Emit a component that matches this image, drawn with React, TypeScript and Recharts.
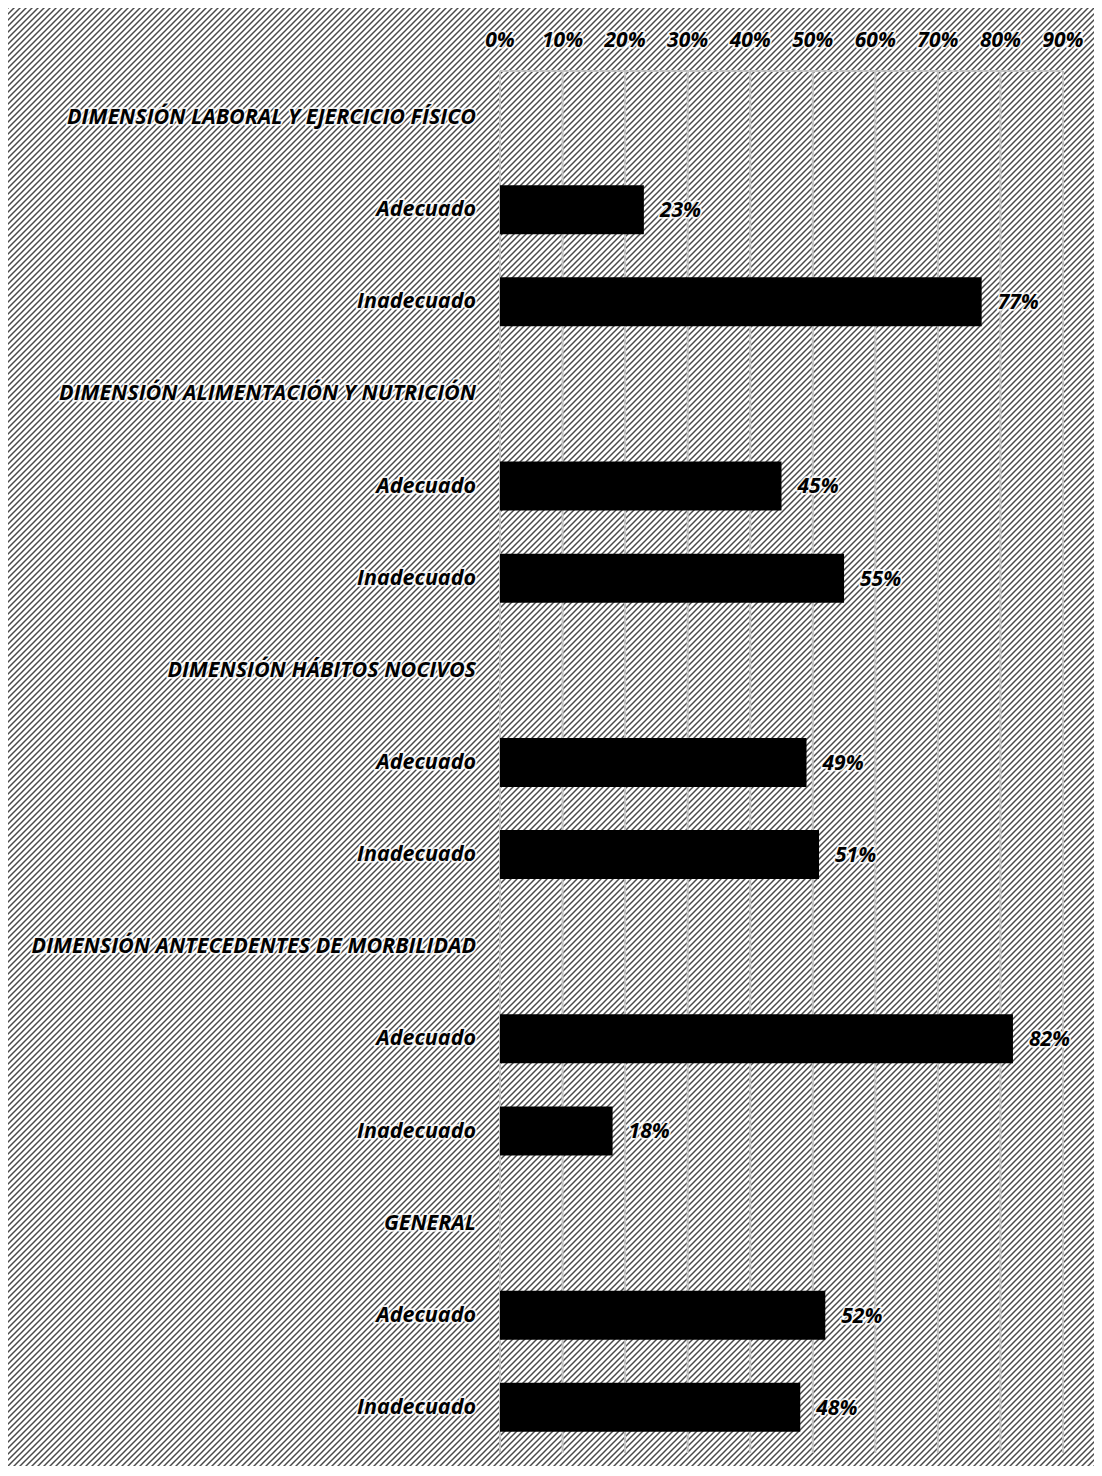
import React from "react";
import { BarChart, Bar, XAxis, YAxis, CartesianGrid, LabelList } from "recharts";

const categories = [
  "DIMENSIÓN LABORAL Y EJERCICIO FÍSICO",
  "Adecuado",
  "Inadecuado",
  "DIMENSIÓN ALIMENTACIÓN Y NUTRICIÓN",
  "Adecuado",
  "Inadecuado",
  "DIMENSIÓN HÁBITOS NOCIVOS",
  "Adecuado",
  "Inadecuado",
  "DIMENSIÓN ANTECEDENTES DE MORBILIDAD",
  "Adecuado",
  "Inadecuado",
  "GENERAL",
  "Adecuado",
  "Inadecuado",
];

const percents: (number | null)[] = [
  null, 0.23, 0.77,
  null, 0.45, 0.55,
  null, 0.49, 0.51,
  null, 0.82, 0.18,
  null, 0.52, 0.48,
];

const xTicks = [0, 0.1, 0.2, 0.3, 0.4, 0.5, 0.6, 0.7, 0.8, 0.9];

const rows = categories.map((c, i) => ({ key: String(i), label: c, value: percents[i] }));

const FONT = "'Open Sans', sans-serif";
const pct = (v: number) => `${Math.round(v * 100)}%`;

const hatch =
  "url(\"data:image/svg+xml;utf8,<svg xmlns='http://www.w3.org/2000/svg' width='6' height='6'>" +
  "<path d='M-1,1 L1,-1 M0,6 L6,0 M5,7 L7,5' stroke='%234a4a4a' stroke-width='1.5'/></svg>\")";

const glow = {
  stroke: "#fff",
  strokeWidth: 3.5,
  strokeOpacity: 0.8,
  strokeLinejoin: "round" as const,
  paintOrder: "stroke" as const,
};

const GRID = "#c2c2c2";

function CatTick(props: any) {
  const { x, y, payload } = props;
  return (
    <text
      x={x}
      y={y}
      dy={7}
      textAnchor="end"
      fontFamily={FONT}
      fontSize={21.5}
      fontWeight={700}
      fontStyle="italic"
      fill="#000"
      {...glow}
    >
      {categories[Number(payload.value)]}
    </text>
  );
}

function PctTick(props: any) {
  const { x, y, payload } = props;
  return (
    <text
      x={x}
      y={y}
      textAnchor="middle"
      fontFamily={FONT}
      fontSize={21}
      fontWeight={700}
      fontStyle="italic"
      fill="#000"
      {...glow}
    >
      {pct(payload.value)}
    </text>
  );
}

export default function App() {
  return (
    <div
      style={{
        width: 1089,
        height: 1458,
        backgroundColor: "#fff",
        backgroundImage: hatch,
        boxShadow: "3px 5px 6px rgba(0,0,0,0.6)",
      }}
    >
      <BarChart
        width={1089}
        height={1458}
        data={rows}
        layout="vertical"
        margin={{ top: 23, right: 34, bottom: 13, left: 0 }}
      >
        <CartesianGrid
          xAxisId="top"
          horizontal={false}
          stroke={GRID}
          strokeWidth={2}
          strokeDasharray="none"
        />
        <XAxis
          xAxisId="top"
          type="number"
          orientation="top"
          domain={[0, 0.9]}
          ticks={xTicks}
          height={40}
          tick={<PctTick />}
          tickLine={false}
          tickMargin={18}
          axisLine={{ stroke: GRID, strokeWidth: 2 }}
        />
        <XAxis
          xAxisId="bottom"
          type="number"
          orientation="bottom"
          domain={[0, 0.9]}
          ticks={xTicks}
          height={0}
          tick={false}
          tickLine={false}
          axisLine={{ stroke: GRID, strokeWidth: 2 }}
        />
        <YAxis
          type="category"
          dataKey="key"
          width={492}
          tick={<CatTick />}
          tickLine={false}
          tickSize={0}
          tickMargin={24}
          axisLine={false}
          interval={0}
        />
        <Bar xAxisId="top" dataKey="value" fill="#000" barSize={49} isAnimationActive={false}>
          <LabelList
            dataKey="value"
            position="right"
            offset={16}
            formatter={(v: any) => (v == null ? "" : pct(Number(v)))}
            style={{
              fontFamily: FONT,
              fontSize: 21,
              fontWeight: 700,
              fontStyle: "italic",
              fill: "#000",
              ...glow,
            }}
          />
        </Bar>
      </BarChart>
    </div>
  );
}
